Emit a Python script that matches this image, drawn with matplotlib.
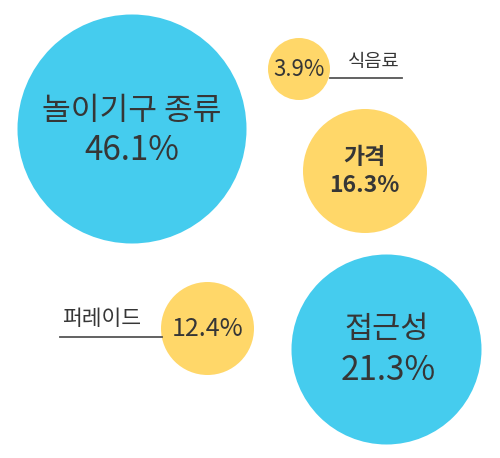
import matplotlib.pyplot as plt
from matplotlib.patches import Circle

plt.rcParams['font.family'] = ['Noto Sans CJK KR', 'DejaVu Sans']

categories = ['놀이기구 종류', '식음료', '가격', '접근성', '퍼레이드']
values = [46.1, 3.9, 16.3, 21.3, 12.4]

# layout in pixel coordinates (x, y, radius)
centers = [(132, 129), (299, 69), (365, 171), (386.5, 349.5), (207.5, 328.5)]
radii = [114.5, 31, 62, 95, 46.5]
colors = ['#45CCEE', '#FFD769', '#FFD769', '#45CCEE', '#FFD769']
text_color = '#363636'
line_color = '#555555'

fig = plt.figure(figsize=(5, 4.58), dpi=100)
ax = fig.add_axes([0, 0, 1, 1])
ax.set_xlim(0, 500)
ax.set_ylim(458, 0)
ax.set_aspect('equal')
ax.axis('off')

for (x, y), r, c in zip(centers, radii, colors):
    ax.add_patch(Circle((x, y), r, color=c, lw=0))

# big bubbles: name and value inside
ax.text(132, 111, categories[0], ha='center', va='center', fontsize=22.5, color=text_color)
ax.text(132, 151, f'{values[0]}%', ha='center', va='center', fontsize=24, color=text_color)

ax.text(387, 329, categories[3], ha='center', va='center', fontsize=22, color=text_color)
ax.text(388, 370, f'{values[3]}%', ha='center', va='center', fontsize=24, color=text_color)

ax.text(364, 157, categories[2], ha='center', va='center', fontsize=16.5, fontweight='bold', color=text_color)
ax.text(364, 185, f'{values[2]}%', ha='center', va='center', fontsize=16.5, fontweight='bold', color=text_color)

# small bubbles: value inside, name outside with underline
ax.text(299, 70, f'{values[1]}%', ha='center', va='center', fontsize=16, color=text_color)
ax.plot([330, 402], [77.7, 77.7], color=line_color, lw=1.3)
ax.text(374, 62, categories[1], ha='center', va='center', fontsize=13.5, color=text_color)

ax.text(208, 329, f'{values[4]}%', ha='center', va='center', fontsize=18, color=text_color)
ax.plot([60, 162], [336.7, 336.7], color=line_color, lw=1.3)
ax.text(101.5, 319, categories[4], ha='center', va='center', fontsize=15.5, color=text_color)

fig.savefig('out.png', dpi=100)
